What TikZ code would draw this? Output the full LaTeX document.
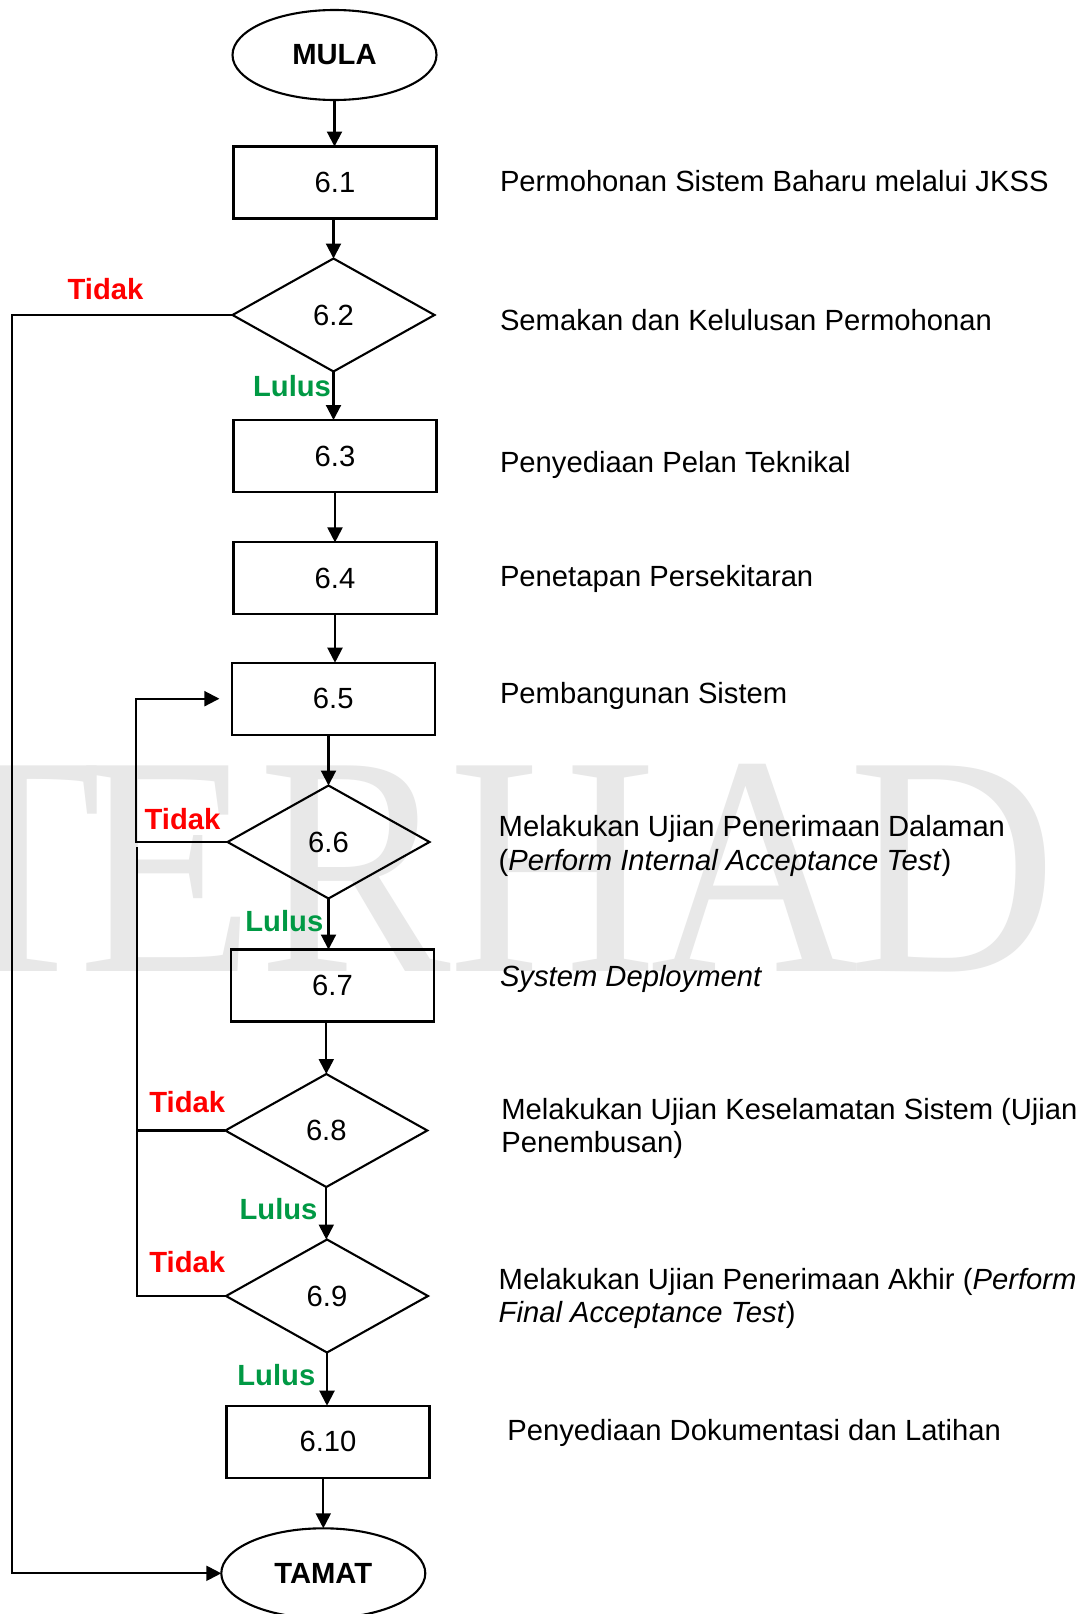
\documentclass[tikz,border=0pt]{standalone}
\usepackage{graphicx}
\usepackage{fontspec}
\setmainfont{Liberation Sans}
\newfontfamily\wmfont{Liberation Serif}
\usetikzlibrary{shapes.geometric,arrows.meta,calc}
\definecolor{tidakred}{RGB}{255,0,0}
\definecolor{lulusgreen}{RGB}{0,153,68}
\definecolor{wmgray}{RGB}{232,232,232}
\newcommand{\wmletter}[1]{\scalebox{0.92}[1]{#1}}
\begin{document}
\begin{tikzpicture}[x=1pt,y=-1pt,
  every node/.style={inner sep=0pt, outer sep=0pt},
  txt/.style={font=\fontsize{29.2}{33.5}\selectfont},
  flow/.style={draw, line width=2.1pt, txt},
  procbox/.style={flow, rectangle, minimum width=203pt, minimum height=72pt},
  decision/.style={flow, diamond, minimum width=202pt, minimum height=113pt},
  terminal/.style={flow, ellipse, minimum width=204pt, minimum height=90pt, font=\fontsize{29.2}{33.5}\selectfont\bfseries},
  desc/.style={txt, anchor=base west},
  tidak/.style={anchor=base, text=tidakred, font=\fontsize{29.2}{33.5}\selectfont\bfseries},
  lulus/.style={anchor=base, text=lulusgreen, font=\fontsize{29.2}{33.5}\selectfont\bfseries},
  wm/.style={anchor=base, text=wmgray, font=\wmfont\fontsize{314}{314}\selectfont},
  conn/.style={line width=2.1pt},
  arr/.style={conn, -{Triangle[length=15pt,width=15pt]}}
]
\fill[white] (0,0) rectangle (1091,1614);
\useasboundingbox (0,0) rectangle (1091,1614);

% watermark
\node[wm] (wmT) at (14,971) {\wmletter{T}};
\node[wm] (wmE) at (167,971) {\wmletter{E}};
\node[wm] (wmR) at (355,971) {\wmletter{R}};
\node[wm] (wmH) at (553,971) {\wmletter{H}};
\node[wm] (wmA) at (755,971) {\wmletter{A}};
\node[wm] (wmD) at (953,971) {\wmletter{D}};

% flow nodes
\node[terminal] (mula) at (334.5,55) {MULA};
\node[procbox] (b61) at (335,182.5) {6.1};
\node[decision] (d62) at (333.5,315) {6.2};
\node[procbox] (b63) at (335,456) {6.3};
\node[procbox] (b64) at (335,578.4) {6.4};
\node[procbox] (b65) at (333.2,698.7) {6.5};
\node[decision] (d66) at (328.5,842) {6.6};
\node[procbox] (b67) at (332.5,985.5) {6.7};
\node[decision] (d68) at (326.3,1130.5) {6.8};
\node[decision] (d69) at (327,1296) {6.9};
\node[procbox] (b610) at (328,1441.7) {6.10};
\node[terminal] (tamat) at (323.3,1573.3) {TAMAT};

% descriptions
\node[desc] (t1) at (500,191) {Permohonan Sistem Baharu melalui JKSS};
\node[desc] (t2) at (500,330) {Semakan dan Kelulusan Permohonan};
\node[desc] (t3) at (500,472.5) {Penyediaan Pelan Teknikal};
\node[desc] (t4) at (500,586.5) {Penetapan Persekitaran};
\node[desc] (t5) at (500,703) {Pembangunan Sistem};
\node[desc] (t6a) at (498.7,836.7) {Melakukan Ujian Penerimaan Dalaman};
\node[desc] (t6b) at (498.7,870.2) {(\textit{Perform Internal Acceptance Test})};
\node[desc] (t7) at (500,986.7) {\textit{System Deployment}};
\node[desc] (t8a) at (501.4,1119.3) {Melakukan Ujian Keselamatan Sistem (Ujian};
\node[desc] (t8b) at (501.4,1152.8) {Penembusan)};
\node[desc] (t9a) at (498.7,1289.3) {Melakukan Ujian Penerimaan Akhir (\textit{Perform}};
\node[desc] (t9b) at (498.7,1322.8) {\textit{Final Acceptance Test})};
\node[desc] (t10) at (507.4,1440) {Penyediaan Dokumentasi dan Latihan};

% main connectors
\draw[arr] (mula.south) -- (mula.south |- b61.north);
\draw[arr] (d62.north |- b61.south) -- (d62.north);
\draw[arr] (d62.south) -- (d62.south |- b63.north);
\draw[arr] (b63.south) -- (b63.south |- b64.north);
\draw[arr] (b64.south) -- (b64.south |- b65.north);
\draw[arr] (d66.north |- b65.south) -- (d66.north);
\draw[arr] (d66.south) -- (d66.south |- b67.north);
\draw[arr] (d68.north |- b67.south) -- (d68.north);
\draw[arr] (d68.south) -- (d68.south |- d69.north);
\draw[arr] (d69.south) -- (d69.south |- b610.north);
\draw[arr] (tamat.north |- b610.south) -- (tamat.north);

% Tidak paths
\coordinate (leftrail) at (12.2,0);
\draw[arr] (d62.west) -- (d62.west -| leftrail) -- (leftrail |- tamat.west) -- (tamat.west);
\coordinate (loopx) at (135.8,0);
\coordinate (b65in) at ($(b65.west)+(-12.3,0)$);
\draw[arr] (d66.west) -- (d66.west -| loopx) -- (loopx |- b65in) -- (b65in);
\coordinate (railtop) at (136.6,847);
\draw[conn] (railtop) -- (railtop |- d69.west) -- (d69.west);
\draw[conn] (d68.west) -- (d68.west -| railtop);

% labels
\node[tidak] (lt62) at (105.5,299) {Tidak};
\node[lulus] (ll62) at (292,396) {Lulus};
\node[tidak] (lt66) at (182.5,829) {Tidak};
\node[lulus] (ll66) at (284.3,931) {Lulus};
\node[tidak] (lt68) at (187.3,1112) {Tidak};
\node[lulus] (ll68) at (278.5,1219) {Lulus};
\node[tidak] (lt69) at (187.3,1272) {Tidak};
\node[lulus] (ll69) at (276.3,1385) {Lulus};
\end{tikzpicture}
\end{document}
